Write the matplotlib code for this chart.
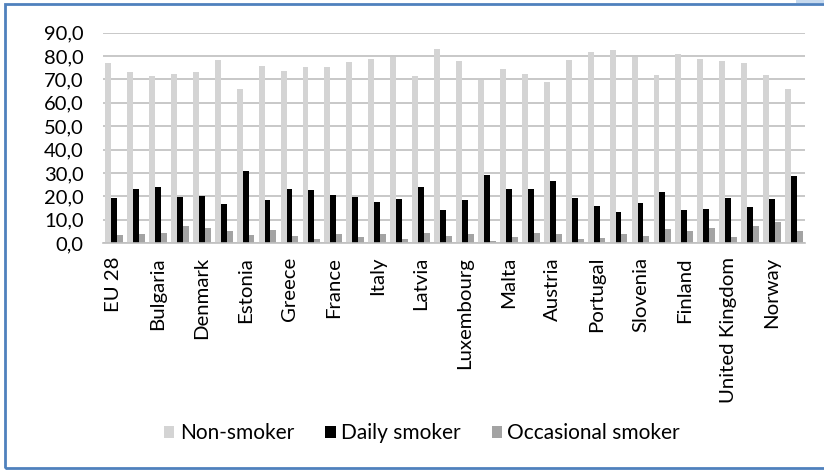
import numpy as np
import matplotlib
matplotlib.use("Agg")
import matplotlib.pyplot as plt
from matplotlib.patches import Rectangle

# Smoking status by country (%)
countries = ["EU 28", "Belgium", "Bulgaria", "Czech Republic", "Denmark", "Germany",
             "Estonia", "Ireland", "Greece", "Spain", "France", "Croatia", "Italy",
             "Cyprus", "Latvia", "Lithuania", "Luxembourg", "Hungary", "Malta",
             "Netherlands", "Austria", "Poland", "Portugal", "Romania", "Slovenia",
             "Slovakia", "Finland", "Sweden", "United Kingdom", "Iceland", "Norway", "Turkey"]
non_smoker = [76.9, 73.2, 71.5, 72.4, 73.2, 78.2, 65.7, 75.9, 73.5, 75.5, 75.4, 77.6,
              78.6, 79.6, 71.5, 82.9, 77.9, 69.8, 74.5, 72.4, 69.1, 78.3, 81.8, 82.6,
              79.8, 72.1, 80.9, 78.9, 78.1, 77.2, 71.8, 66.1]
daily_smoker = [19.4, 22.9, 23.9, 19.9, 20.1, 16.7, 30.8, 18.2, 22.9, 22.6, 20.5, 19.9,
                17.4, 18.9, 23.9, 14.0, 18.2, 29.1, 22.9, 22.9, 26.6, 19.4, 16.0, 13.4,
                17.2, 21.7, 14.0, 14.5, 19.1, 15.4, 18.9, 28.6]
occasional_smoker = [3.3, 3.8, 4.4, 7.4, 6.6, 5.0, 3.4, 5.7, 3.1, 1.6, 4.0, 2.4, 3.8,
                     1.6, 4.3, 3.0, 3.8, 1.0, 2.7, 4.4, 4.0, 1.9, 2.1, 3.8, 3.0, 6.0,
                     5.0, 6.3, 2.6, 7.4, 8.8, 5.0]
y_ticks = [0, 10, 20, 30, 40, 50, 60, 70, 80, 90]

plt.rcParams['font.family'] = ['Lato', 'DejaVu Sans']

fig = plt.figure(figsize=(8.24, 4.70), dpi=100)
ax = fig.add_axes([103 / 824, 1 - 243 / 470, 702 / 824, (243 - 32.7) / 470])

x = np.arange(len(countries))
w = 0.27
ax.bar(x - w, non_smoker, w, color='#d4d4d4', label='Non-smoker', zorder=2)
ax.bar(x, daily_smoker, w, color='#000000', label='Daily smoker', zorder=2)
ax.bar(x + w, occasional_smoker, w, color='#a3a3a3', label='Occasional smoker', zorder=2)

ax.set_xlim(-0.5, len(countries) - 0.5)
ax.set_ylim(0, 90)
ax.set_yticks(y_ticks)
ax.set_yticklabels([f"{v:.1f}".replace('.', ',') for v in y_ticks], fontsize=14.5)
ax.yaxis.grid(True, color='#bfbfbf', linewidth=1.2, zorder=0)
ax.set_axisbelow(True)

ax.set_xticks(x[::2])
ax.set_xticklabels(countries[::2], rotation=90, fontsize=14.7, va='top', ha='center')
ax.tick_params(axis='both', length=0)
ax.tick_params(axis='y', pad=14)
ax.tick_params(axis='x', pad=10)

for side in ['top', 'right', 'left']:
    ax.spines[side].set_visible(False)
ax.spines['bottom'].set_color('#bfbfbf')
ax.spines['bottom'].set_linewidth(1.2)

fig.legend(loc='center', bbox_to_anchor=(422 / 824, 1 - 433 / 470), ncol=3,
           frameon=False, fontsize=15, handlelength=0.5, handleheight=0.5,
           handletextpad=0.25, columnspacing=1.5)

# chart border
fig.patches.append(Rectangle((5 / 824, 2 / 470), 1.1, 464 / 470, transform=fig.transFigure,
                             fill=False, edgecolor='#4f81bd', linewidth=2.0, zorder=10))
fig.patches.append(Rectangle((796 / 824, 1 - 3 / 470), 30 / 824, 3 / 470,
                             transform=fig.transFigure, facecolor='#c6d9ee',
                             edgecolor='none', zorder=11))

fig.savefig('out.png', dpi=100)
